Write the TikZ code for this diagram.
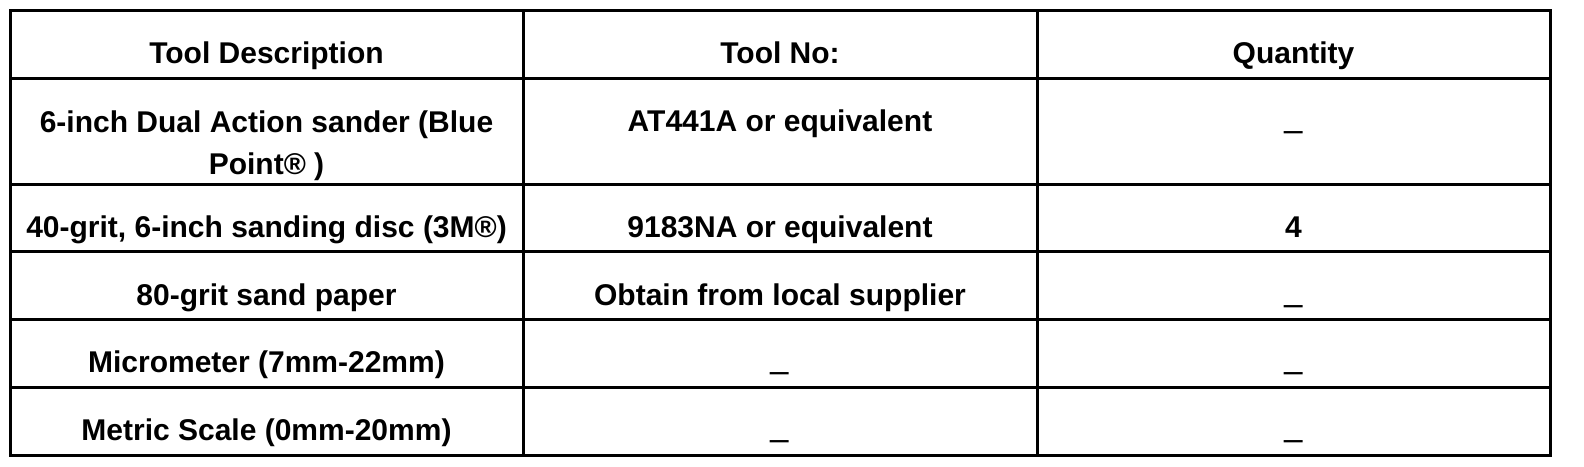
\documentclass[tikz,border=0pt]{standalone}
\usepackage{fontspec}
\setmainfont{Liberation Sans}
\newcommand{\emptyqty}{\raisebox{2.2pt}{\scalebox{1.1}[2]{\_}}}

\begin{document}
\begin{tikzpicture}[x=0.5pt,y=-0.5pt,
  cell/.style={anchor=base,inner sep=0pt,align=center,
    font=\bfseries\fontsize{15}{21}\selectfont},
  rule/.style={line width=1.5pt}]
 \useasboundingbox (0,0) rectangle (1584,466);

 % grid
 \draw[rule] (10,10) rectangle (1550,455);
 \foreach \y in {78,184,251,319,387}
   \draw[rule] (10,\y) -- (1550,\y);
 \foreach \x in {523,1037}
   \draw[rule] (\x,10) -- (\x,455);

 % header
 \node[cell] (desc) at (266.5, 63) {Tool Description};
 \node[cell] (no)   at (780,   63) {Tool No:};
 \node[cell] (qty)  at (1293.5,63) {Quantity};

 % rows (base of a two-line cell is its last line)
 \node[cell] (sander)   at (266.5, 174) {6-inch Dual Action sander (Blue\\Point® )};
 \node[cell] (sanderno) at (780,   131) {AT441A or equivalent};
 \node[cell] (sanderq)  at (1293.5,131) {\emptyqty};

 \node[cell] (disc)   at (266.5, 237) {40-grit, 6-inch sanding disc (3M®)};
 \node[cell] (discno) at (780,   237) {9183NA or equivalent};
 \node[cell] (discq)  at (1293.5,237) {4};

 \node[cell] (paper)   at (266.5, 305) {80-grit sand paper};
 \node[cell] (paperno) at (780,   305) {Obtain from local supplier};
 \node[cell] (paperq)  at (1293.5,305) {\emptyqty};

 \node[cell] (micro)   at (266.5, 372) {Micrometer (7mm-22mm)};
 \node[cell] (microno) at (780,   372) {\emptyqty};
 \node[cell] (microq)  at (1293.5,372) {\emptyqty};

 \node[cell] (scale)   at (266.5, 440) {Metric Scale (0mm-20mm)};
 \node[cell] (scaleno) at (780,   440) {\emptyqty};
 \node[cell] (scaleq)  at (1293.5,440) {\emptyqty};
\end{tikzpicture}
\end{document}
